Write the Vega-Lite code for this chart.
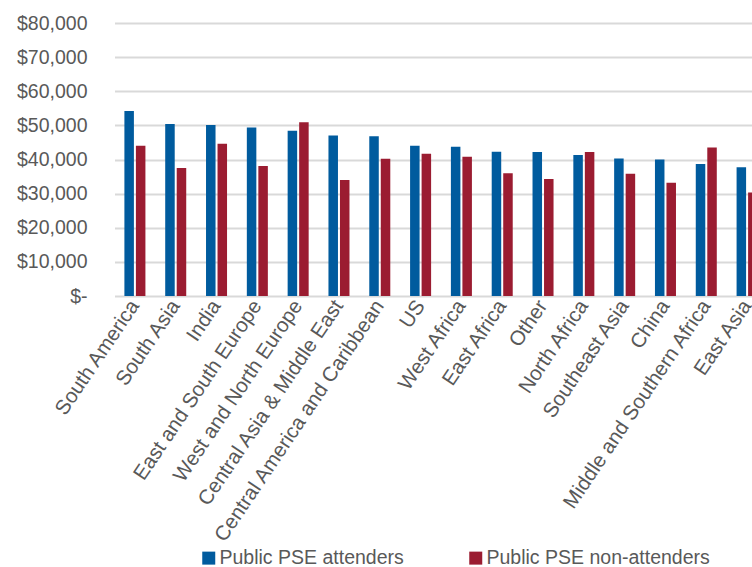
{
  "$schema": "https://vega.github.io/schema/vega-lite/v6.json",
  "width": 637.5,
  "height": 273,
  "autosize": {"type": "none"},
  "padding": {"left": 114.5, "top": 23, "right": 0, "bottom": 271},
  "background": "white",
  "config": {"view": {"stroke": null}, "font": "Liberation Sans"},
  "data": {
    "values": [
      {"region": "South America", "group": "Public PSE attenders", "value": 54200},
      {"region": "South America", "group": "Public PSE non-attenders", "value": 44000},
      {"region": "South Asia", "group": "Public PSE attenders", "value": 50400},
      {"region": "South Asia", "group": "Public PSE non-attenders", "value": 37500},
      {"region": "India", "group": "Public PSE attenders", "value": 50100},
      {"region": "India", "group": "Public PSE non-attenders", "value": 44600},
      {"region": "East and South Europe", "group": "Public PSE attenders", "value": 49400},
      {"region": "East and South Europe", "group": "Public PSE non-attenders", "value": 38100},
      {"region": "West and North Europe", "group": "Public PSE attenders", "value": 48400},
      {"region": "West and North Europe", "group": "Public PSE non-attenders", "value": 50900},
      {"region": "Central Asia & Middle East", "group": "Public PSE attenders", "value": 47000},
      {"region": "Central Asia & Middle East", "group": "Public PSE non-attenders", "value": 34000},
      {"region": "Central America and Caribbean", "group": "Public PSE attenders", "value": 46800},
      {"region": "Central America and Caribbean", "group": "Public PSE non-attenders", "value": 40200},
      {"region": "US", "group": "Public PSE attenders", "value": 44000},
      {"region": "US", "group": "Public PSE non-attenders", "value": 41700},
      {"region": "West Africa", "group": "Public PSE attenders", "value": 43700},
      {"region": "West Africa", "group": "Public PSE non-attenders", "value": 40800},
      {"region": "East Africa", "group": "Public PSE attenders", "value": 42300},
      {"region": "East Africa", "group": "Public PSE non-attenders", "value": 36000},
      {"region": "Other", "group": "Public PSE attenders", "value": 42200},
      {"region": "Other", "group": "Public PSE non-attenders", "value": 34300},
      {"region": "North Africa", "group": "Public PSE attenders", "value": 41300},
      {"region": "North Africa", "group": "Public PSE non-attenders", "value": 42200},
      {"region": "Southeast Asia", "group": "Public PSE attenders", "value": 40300},
      {"region": "Southeast Asia", "group": "Public PSE non-attenders", "value": 35800},
      {"region": "China", "group": "Public PSE attenders", "value": 40000},
      {"region": "China", "group": "Public PSE non-attenders", "value": 33200},
      {"region": "Middle and Southern Africa", "group": "Public PSE attenders", "value": 38700},
      {"region": "Middle and Southern Africa", "group": "Public PSE non-attenders", "value": 43500},
      {"region": "East Asia", "group": "Public PSE attenders", "value": 37700},
      {"region": "East Asia", "group": "Public PSE non-attenders", "value": 30300}
    ]
  },
  "mark": {"type": "bar", "clip": true},
  "encoding": {
    "x": {
      "field": "region",
      "type": "nominal",
      "sort": null,
      "scale": {"range": [0, 653], "paddingInner": 0.485, "paddingOuter": 0.2425},
      "axis": {
        "title": null,
        "labelAngle": -56,
        "labelFontSize": 20.5,
        "labelColor": "#595959",
        "labelFont": "Liberation Sans",
        "ticks": false,
        "domain": false,
        "labelPadding": 6,
        "labelDx": -3,
        "labelLimit": 400,
        "labelOverlap": false
      }
    },
    "xOffset": {
      "field": "group",
      "type": "nominal",
      "sort": ["Public PSE attenders", "Public PSE non-attenders"],
      "scale": {"paddingInner": 0.174, "paddingOuter": 0}
    },
    "y": {
      "field": "value",
      "type": "quantitative",
      "scale": {"domain": [0, 80000], "nice": false},
      "axis": {
        "title": null,
        "values": [0, 10000, 20000, 30000, 40000, 50000, 60000, 70000, 80000],
        "labelExpr": "datum.value == 0 ? '$-\u00a0\u00a0' : '$' + format(datum.value, ',')",
        "labelFontSize": 19.5,
        "labelColor": "#595959",
        "labelFont": "Liberation Sans",
        "labelPadding": 27.5,
        "ticks": false,
        "domain": false,
        "gridColor": "#d9d9d9",
        "gridWidth": 2
      }
    },
    "color": {
      "field": "group",
      "type": "nominal",
      "scale": {
        "domain": ["Public PSE attenders", "Public PSE non-attenders"],
        "range": ["#005b9e", "#9b1c31"]
      },
      "legend": {
        "title": null,
        "orient": "none",
        "legendX": 84.5,
        "legendY": 525,
        "direction": "horizontal",
        "symbolType": "square",
        "symbolSize": 169,
        "symbolStrokeWidth": 0,
        "labelFontSize": 19.5,
        "labelColor": "#595959",
        "labelFont": "Liberation Sans",
        "labelOffset": 1,
        "columnPadding": 62,
        "labelLimit": 400
      }
    }
  }
}
